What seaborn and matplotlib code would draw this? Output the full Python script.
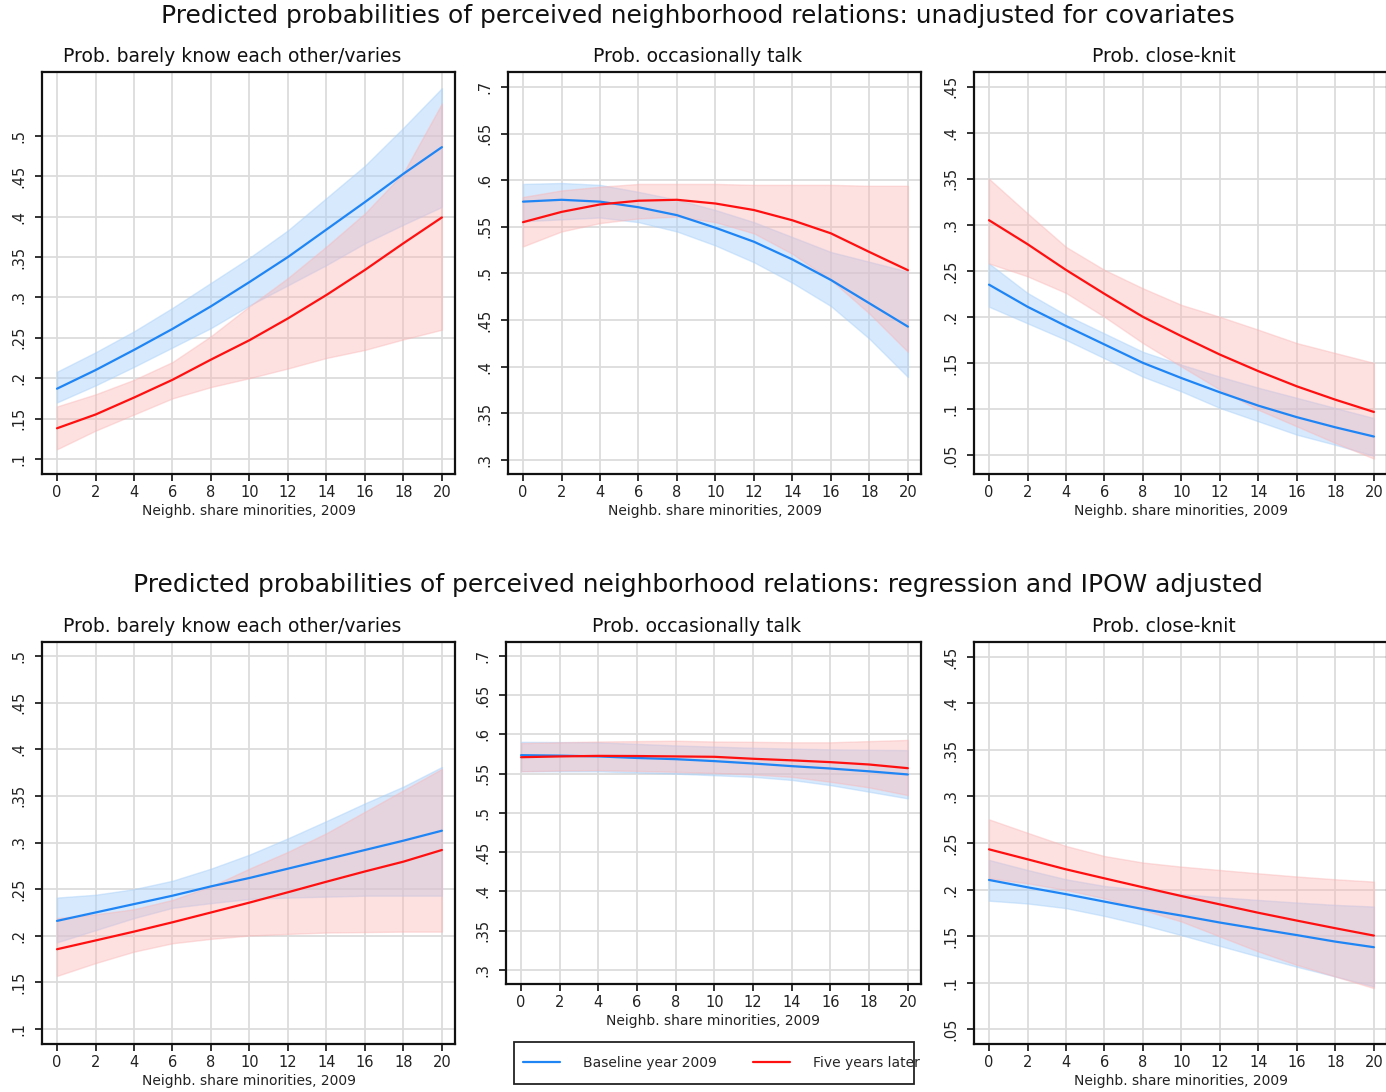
import numpy as np
import pandas as pd
import matplotlib
matplotlib.use("Agg")
import matplotlib.pyplot as plt
import seaborn as sns
from matplotlib.lines import Line2D
from matplotlib.patches import Rectangle

sns.set_theme(style="white")
plt.rcParams['font.family'] = ['DejaVu Sans']

# ---------------- data ----------------
share = [0, 2, 4, 6, 8, 10, 12, 14, 16, 18, 20]

# Top row: unadjusted
# barely know
ua_bk_base = [.187, .210, .235, .261, .289, .319, .350, .384, .418, .453, .486]
ua_bk_base_hi = [.208, .232, .258, .287, .318, .349, .383, .423, .463, .510, .559]
ua_bk_base_lo = [.170, .191, .214, .238, .262, .290, .315, .340, .367, .390, .412]
ua_bk_late = [.138, .155, .176, .198, .223, .247, .274, .303, .334, .367, .399]
ua_bk_late_hi = [.165, .180, .198, .220, .252, .289, .324, .363, .404, .454, .540]
ua_bk_late_lo = [.112, .135, .155, .175, .189, .200, .212, .225, .235, .248, .260]
# occasionally talk
ua_ot_base = [.577, .579, .577, .571, .5625, .549, .534, .515, .493, .468, .443]
ua_ot_base_hi = [.596, .597, .595, .5875, .579, .568, .555, .539, .523, .5125, .502]
ua_ot_base_lo = [.556, .558, .560, .555, .545, .530, .512, .490, .465, .430, .389]
ua_ot_late = [.555, .566, .574, .578, .579, .575, .568, .557, .543, .523, .5035]
ua_ot_late_hi = [.582, .589, .593, .596, .596, .596, .595, .595, .595, .594, .594]
ua_ot_late_lo = [.529, .545, .554, .559, .561, .555, .543, .521, .493, .457, .416]
# close-knit
ua_ck_base = [.235, .211, .190, .170, .150, .1335, .118, .1035, .091, .080, .070]
ua_ck_base_hi = [.258, .226, .202, .182, .162, .148, .135, .123, .112, .101, .090]
ua_ck_base_lo = [.211, .193, .175, .155, .135, .119, .101, .0865, .072, .061, .049]
ua_ck_late = [.305, .279, .251, .225, .200, .179, .159, .141, .1245, .110, .0967]
ua_ck_late_hi = [.350, .3125, .276, .251, .231, .213, .200, .186, .1715, .1607, .150]
ua_ck_late_lo = [.258, .244, .226, .200, .1715, .146, .121, .099, .081, .063, .046]

# Bottom row: regression and IPOW adjusted
ad_bk_base = [.216, .225, .234, .243, .253, .262, .272, .282, .292, .302, .3127]
ad_bk_base_hi = [.241, .244, .250, .259, .272, .287, .3045, .323, .342, .360, .381]
ad_bk_base_lo = [.193, .206, .219, .230, .235, .2395, .241, .242, .243, .243, .243]
ad_bk_late = [.1856, .195, .2045, .2145, .225, .2356, .2467, .258, .269, .2795, .292]
ad_bk_late_hi = [.219, .223, .2285, .2385, .253, .272, .290, .310, .333, .356, .379]
ad_bk_late_lo = [.157, .1707, .183, .192, .1967, .2003, .202, .2035, .204, .2045, .2045]

ad_ot_base = [.5736, .573, .572, .570, .5685, .566, .563, .5596, .5566, .553, .549]
ad_ot_base_hi = [.5906, .5903, .590, .588, .586, .5845, .583, .582, .581, .5805, .580]
ad_ot_base_lo = [.553, .553, .553, .5515, .550, .548, .546, .542, .5354, .527, .5185]
ad_ot_late = [.571, .572, .5727, .5725, .572, .5715, .569, .567, .5647, .5617, .557]
ad_ot_late_hi = [.589, .590, .591, .5915, .592, .591, .5906, .590, .590, .5915, .593]
ad_ot_late_lo = [.553, .554, .5545, .5535, .5524, .551, .549, .546, .5397, .5325, .5227]

ad_ck_base = [.2103, .2024, .195, .187, .179, .172, .1645, .1577, .151, .144, .138]
ad_ck_base_hi = [.2318, .221, .211, .2038, .1995, .195, .1917, .1888, .186, .1835, .1817]
ad_ck_base_lo = [.188, .185, .180, .1716, .162, .151, .1394, .128, .117, .1065, .0958]
ad_ck_late = [.2432, .2325, .2217, .212, .2024, .193, .184, .175, .1666, .1584, .1505]
ad_ck_late_hi = [.2754, .261, .2468, .236, .229, .2246, .221, .2174, .214, .211, .2085]
ad_ck_late_lo = [.212, .2067, .1995, .1906, .178, .1656, .1495, .1334, .119, .1065, .094]

panel_titles = ["Prob. barely know each other/varies", "Prob. occasionally talk", "Prob. close-knit"]
row_titles = ["Predicted probabilities of perceived neighborhood relations: unadjusted for covariates",
              "Predicted probabilities of perceived neighborhood relations: regression and IPOW adjusted"]
xlabel = "Neighb. share minorities, 2009"
series_labels = ["Baseline year 2009", "Five years later"]

BLUE = "#1f85f5"
RED = "#ff1010"
BLUE_F = "#a8d0fa"
RED_F = "#fbb3b3"

W, H = 1386, 1092
fig = plt.figure(figsize=(W / 100, H / 100), dpi=100)
fig.patch.set_facecolor("white")

def px_axes(x0, y0, x1, y1):
    return fig.add_axes([x0 / W, 1 - y1 / H, (x1 - x0) / W, (y1 - y0) / H])

def fmt(v):
    s = ("%.2f" % v).rstrip("0")
    return s[1:] if s.startswith("0") else s

panels = [
    ((42, 72, 455, 474), (.0814, .579), np.arange(.1, .501, .05),
     (ua_bk_base, ua_bk_base_lo, ua_bk_base_hi, ua_bk_late, ua_bk_late_lo, ua_bk_late_hi), 0),
    ((508, 72, 921, 474), (.285, .716), np.arange(.3, .701, .05),
     (ua_ot_base, ua_ot_base_lo, ua_ot_base_hi, ua_ot_late, ua_ot_late_lo, ua_ot_late_hi), 1),
    ((974, 72, 1387, 474), (.0293, .466), np.arange(.05, .451, .05),
     (ua_ck_base, ua_ck_base_lo, ua_ck_base_hi, ua_ck_late, ua_ck_late_lo, ua_ck_late_hi), 2),
    ((42, 642, 455, 1044), (.084, .515), np.arange(.1, .501, .05),
     (ad_bk_base, ad_bk_base_lo, ad_bk_base_hi, ad_bk_late, ad_bk_late_lo, ad_bk_late_hi), 0),
    ((506, 642, 921, 984), (.282, .7178), np.arange(.3, .701, .05),
     (ad_ot_base, ad_ot_base_lo, ad_ot_base_hi, ad_ot_late, ad_ot_late_lo, ad_ot_late_hi), 1),
    ((974, 642, 1387, 1044), (.034, .466), np.arange(.05, .451, .05),
     (ad_ck_base, ad_ck_base_lo, ad_ck_base_hi, ad_ck_late, ad_ck_late_lo, ad_ck_late_hi), 2),
]

for box, ylim, yticks, d, ti in panels:
    ax = px_axes(*box)
    b, blo, bhi, l, llo, lhi = d
    df = pd.DataFrame({
        "share": share * 2,
        "prob": list(b) + list(l),
        "series": [series_labels[0]] * len(share) + [series_labels[1]] * len(share),
    })
    ax.fill_between(share, blo, bhi, color=BLUE_F, alpha=0.45, lw=1.0, edgecolor=BLUE_F, zorder=2)
    ax.fill_between(share, llo, lhi, color=RED_F, alpha=0.40, lw=1.0, edgecolor=RED_F, zorder=2)
    sns.lineplot(data=df, x="share", y="prob", hue="series",
                 palette={series_labels[0]: BLUE, series_labels[1]: RED},
                 linewidth=1.6, ax=ax, legend=False, zorder=3)
    ax.set_xlim(-0.78, 20.68)
    ax.set_ylim(*ylim)
    ax.set_xticks(range(0, 21, 2))
    ax.set_yticks(yticks)
    ax.set_yticklabels([fmt(v) for v in yticks], rotation=90, va="center")
    ax.grid(True, color="#dcdcdc", lw=1.3, zorder=0)
    ax.set_axisbelow(True)
    for sp in ax.spines.values():
        sp.set_visible(True)
        sp.set_color("#111111")
        sp.set_linewidth(1.6)
    ax.tick_params(axis="both", which="both", direction="out", length=5, width=1.2,
                   color="#111111", labelsize=10.5, labelcolor="#222222",
                   left=True, bottom=True, pad=3)
    ax.tick_params(axis="y", pad=6)
    ax.set_xlabel(xlabel, fontsize=10, color="#222222", labelpad=3)
    ax.set_ylabel("")
    ax.set_title(panel_titles[ti], fontsize=13.5, color="#111111", pad=7,
                 x=0.5 - 16.5 / (box[2] - box[0]))

fig.text(698 / W, 1 - 16 / H, row_titles[0], ha="center", va="center", fontsize=17.9, color="#111111")
fig.text(698 / W, 1 - 585 / H, row_titles[1], ha="center", va="center", fontsize=17.9, color="#111111")

# legend frame (drawn separately, as in the reference the last label runs past it)
fig.patches.append(Rectangle((514 / W, 1 - 1084 / H), 400 / W, 42 / H,
                             transform=fig.transFigure, fill=False,
                             edgecolor="#222222", lw=1.3, zorder=5))
handles = [Line2D([], [], color=BLUE, lw=1.6), Line2D([], [], color=RED, lw=1.6)]
leg = fig.legend(handles, series_labels, loc="center left", ncol=2,
                 bbox_to_anchor=(523 / W, 1 - 1063 / H), frameon=False,
                 fontsize=10, handlelength=2.66, handletextpad=1.65, columnspacing=2.6,
                 borderpad=0, borderaxespad=0)

fig.savefig("out.png", dpi=100, facecolor="white")
